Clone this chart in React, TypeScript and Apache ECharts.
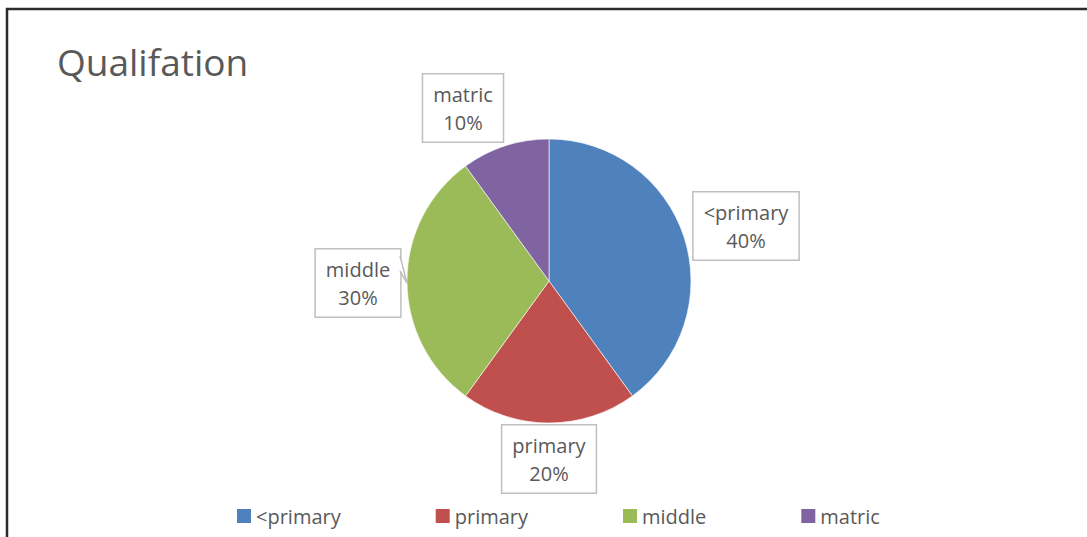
import React, { useEffect, useRef } from "react";
import * as echarts from "echarts";

const categories = ["<primary", "primary", "middle", "matric"];
const shares = [40, 20, 30, 10];
const colors = ["#4F81BD", "#C0504D", "#9BBB59", "#8064A2"];
const titleText = "Qualifation";

// label box centres (layout only)
const labelCentres: [number, number][] = [
  [746, 226],
  [549, 459],
  [358, 283],
  [463, 108],
];

export default function App() {
  const ref = useRef<HTMLDivElement>(null);
  useEffect(() => {
    document.body.style.margin = "0";
    const chart = echarts.init(ref.current!, undefined, { renderer: "svg" });
    const font = "'Open Sans', 'Noto Sans', sans-serif";
    chart.setOption({
      animation: false,
      backgroundColor: "#ffffff",
      color: colors,
      title: {
        text: titleText,
        left: 52,
        top: 38,
        textStyle: { fontFamily: font, fontSize: 37, fontWeight: "normal", color: "#595959" },
      },
      legend: {
        left: 232,
        top: 501,
        icon: "rect",
        itemWidth: 14,
        itemHeight: 14,
        itemGap: 95,
        data: categories,
        itemStyle: { borderWidth: 0 },
        textStyle: { fontFamily: font, fontSize: 20, color: "#595959" },
      },
      graphic: [
        { type: "line", shape: { x1: 6, y1: 9, x2: 1087, y2: 9 }, style: { stroke: "#2b2b2b", lineWidth: 2.5 }, z: 100 },
        { type: "line", shape: { x1: 7, y1: 8, x2: 7, y2: 537 }, style: { stroke: "#2b2b2b", lineWidth: 2.5 }, z: 100 },
        {
          type: "polyline",
          shape: { points: [[400, 256], [407, 283], [400, 271]] },
          style: { stroke: "#BFBFBF", lineWidth: 1.5, fill: "#ffffff" },
          z: 100,
        },
      ],
      series: [
        {
          type: "pie",
          center: [549, 281],
          radius: 142,
          startAngle: 90,
          clockwise: true,
          itemStyle: { borderColor: "#ffffff", borderWidth: 0.6 },
          data: categories.map((c, i) => ({ name: c, value: shares[i] })),
          labelLine: { show: false },
          label: {
            show: true,
            position: "outside",
            formatter: (p: any) => `${p.name}\n${p.percent}%`,
            fontFamily: font,
            fontSize: 20,
            lineHeight: 28,
            color: "#595959",
            align: "center",
            backgroundColor: "#ffffff",
            borderColor: "#BFBFBF",
            borderWidth: 1.5,
            padding: [7, 10, 4, 10],
          },
          labelLayout: (params: any) => {
            const c = labelCentres[params.dataIndex];
            return { x: c[0], y: c[1], align: "center", verticalAlign: "middle" };
          },
        },
      ],
    });
    return () => chart.dispose();
  }, []);
  return <div ref={ref} style={{ width: 1087, height: 537 }} />;
}
